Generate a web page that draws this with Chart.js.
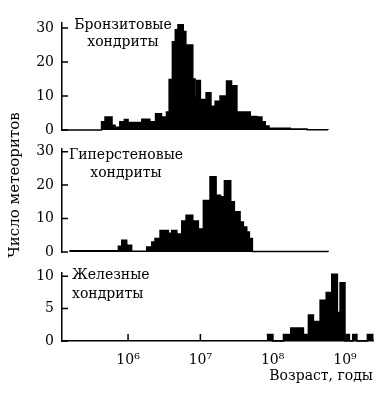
<!DOCTYPE html>
<html>
<head>
<meta charset="utf-8">
<script src="https://cdn.jsdelivr.net/npm/chart.js@4.4.0/dist/chart.umd.min.js"></script>
<style>
  body { margin: 0; background: #fff; }
  #wrap { position: relative; width: 387px; height: 399px; background: #fff; overflow: hidden; }
  #wrap canvas { position: absolute; left: 0; }
  #ylabel {
    position: absolute; left: -65px; top: 175px; width: 160px; height: 20px;
    line-height: 20px; text-align: center; transform: rotate(-90deg);
    font: 15px "DejaVu Serif", serif; color: #000; white-space: nowrap;
  }
</style>
</head>
<body>
<div id="wrap">
  <canvas id="bronzite" width="387" height="147" style="top:0"></canvas>
  <canvas id="hypersthene" width="387" height="143" style="top:126px"></canvas>
  <canvas id="iron" width="387" height="149" style="top:250px"></canvas>
  <div id="ylabel">Число метеоритов</div>
</div>
<script>
// age axis range, years
const ageMin = 1.22e5;
const ageMax = 2.44e9;
const decadeTicks = [1e6, 1e7, 1e8, 1e9];

// bin edges (years) and counts; last edge closes the histogram
const bronziteEdges = [4.3e5, 4.8e5, 6.0e5, 6.6e5, 7.7e5, 8.9e5, 1.0e6, 1.55e6, 2.0e6, 2.4e6, 2.9e6, 3.4e6,
  3.7e6, 4.1e6, 4.5e6, 4.9e6, 5.8e6, 6.3e6, 7.2e6, 7.85e6, 8.45e6, 8.9e6, 1.0e7, 1.2e7, 1.4e7, 1.6e7,
  1.87e7, 2.3e7, 2.7e7, 3.2e7, 4.9e7, 6.0e7, 7.1e7, 7.9e7, 8.9e7, 1.75e8, 3.0e8, 5.8e8];
const bronziteCounts = [2.4, 3.8, 1.4, 0.8, 2.4, 3.1, 2.2, 3.2, 2.4, 4.8, 3.8, 5.3,
  14.9, 26, 29.5, 31, 29, 25, 25, 15, 9.6, 14.6, 9, 11, 7, 8.5,
  10, 14.4, 13, 5.3, 4, 3.8, 2.4, 1.2, 0.5, 0.3, 0.1];
const bronziteTicks = [0, 10, 20, 30];

const hyperstheneEdges = [1.58e5, 7.35e5, 8.18e5, 9.59e5, 1.12e6, 1.81e6, 2.13e6, 2.36e6, 2.77e6, 3.61e6,
  4.02e6, 4.72e6, 5.53e6, 6.34e6, 7.85e6, 9.38e6, 1.10e7, 1.36e7, 1.65e7, 1.90e7, 2.15e7, 2.63e7,
  2.95e7, 3.54e7, 3.93e7, 4.38e7, 4.76e7, 5.24e7, 5.84e8];
const hyperstheneCounts = [0.4, 1.7, 3.5, 2, 0.2, 1.5, 3, 4, 6.4, 5.6,
  6.4, 5.4, 9.3, 11, 9.3, 6.9, 15.4, 22.5, 17, 16.5, 21.3, 15,
  12, 9, 7.5, 6, 4, 0.15];
const hyperstheneTicks = [0, 10, 20, 30];

const ironEdges = [8.28e7, 1.0e8, 1.41e8, 1.78e8, 2.04e8, 2.66e8, 3.12e8, 3.66e8, 4.53e8, 5.5e8,
  6.56e8, 7.85e8, 8.55e8, 1.0e9, 1.06e9, 1.15e9, 1.28e9, 1.46e9, 2.04e9, 2.42e9];
const ironCounts = [1, 0, 1, 2, 2, 1, 4, 3, 6.3, 7.5, 10.3, 4.4, 9, 0, 1, 0, 1, 0, 1];
const ironTicks = [0, 5, 10];

const sup = { 6: "⁶", 7: "⁷", 8: "⁸", 9: "⁹" };

Chart.defaults.font.family = '"DejaVu Serif", serif';
Chart.defaults.font.size = 14;
Chart.defaults.color = "#000";

// tick marks pointing into the plot
const innerTicks = {
  id: "innerTicks",
  afterDraw(chart) {
    const { ctx, chartArea, scales } = chart;
    ctx.save();
    ctx.strokeStyle = "#000";
    ctx.lineWidth = 1.5;
    ctx.beginPath();
    scales.y.ticks.forEach((t) => {
      const y = scales.y.getPixelForValue(t.value);
      ctx.moveTo(chartArea.left, y);
      ctx.lineTo(chartArea.left + 6, y);
    });
    if (scales.x.options.display) {
      scales.x.ticks.forEach((t) => {
        const x = scales.x.getPixelForValue(t.value);
        ctx.moveTo(x, chartArea.bottom);
        ctx.lineTo(x, chartArea.bottom - 7);
      });
    }
    ctx.stroke();
    ctx.restore();
  },
};

// panel name written inside the plot area
const panelText = {
  id: "panelText",
  afterDraw(chart, args, opts) {
    const { ctx, chartArea } = chart;
    ctx.save();
    ctx.font = '14px "DejaVu Serif", serif';
    ctx.fillStyle = "#000";
    ctx.textAlign = opts.align;
    ctx.textBaseline = "alphabetic";
    opts.lines.forEach((line, i) => {
      ctx.fillText(line, chartArea.left + opts.dx, chartArea.top + opts.dy + i * opts.gap);
    });
    ctx.restore();
  },
};

const histPoints = (edges, counts, start) => {
  const pts = edges.map((e, i) => ({ x: e, y: i < counts.length ? counts[i] : 0 }));
  if (start) pts.unshift({ x: start, y: 0 });
  return pts;
};

const makePanel = (id, edges, counts, start, yMax, yTicks, text, padding, showX) => {
  const ctx = document.getElementById(id);
  return new Chart(ctx, {
    type: "line",
    data: {
      datasets: [
        {
          data: histPoints(edges, counts, start),
          stepped: true,
          fill: "origin",
          backgroundColor: "#000",
          borderColor: "#000",
          borderWidth: 1.5,
          pointRadius: 0,
          clip: false,
        },
      ],
    },
    options: {
      responsive: false,
      animation: false,
      layout: { padding: padding },
      plugins: {
        legend: { display: false },
        tooltip: { enabled: false },
        panelText: text,
      },
      scales: {
        x: {
          type: "logarithmic",
          min: ageMin,
          max: ageMax,
          display: showX,
          grid: { display: false, drawTicks: false },
          border: { display: true, color: "#000", width: 1.5 },
          afterBuildTicks: (scale) => {
            scale.ticks = decadeTicks.map((v) => ({ value: v }));
          },
          afterFit: (scale) => {
            if (showX) scale.height = 58;
          },
          ticks: {
            padding: 11,
            maxRotation: 0,
            callback: (v) => "10" + sup[Math.round(Math.log10(v))],
          },
          title: {
            display: showX,
            text: "Возраст, годы",
            align: "end",
            padding: { top: 0, bottom: 14 },
          },
        },
        y: {
          min: 0,
          max: yMax,
          grid: { display: false, drawTicks: false },
          border: { display: true, color: "#000", width: 1.5 },
          afterBuildTicks: (scale) => {
            scale.ticks = yTicks.map((v) => ({ value: v }));
          },
          afterFit: (scale) => {
            scale.width = 62;
          },
          ticks: { padding: 8 },
        },
      },
    },
    plugins: [innerTicks, panelText],
  });
};

makePanel("bronzite", bronziteEdges, bronziteCounts, ageMin, 31.5, bronziteTicks,
  { lines: ["Бронзитовые", "хондриты"], align: "center", dx: 61, dy: 6, gap: 17 },
  { top: 23, right: 14, bottom: 17, left: 0 }, false);

makePanel("hypersthene", hyperstheneEdges, hyperstheneCounts, 1.58e5, 30.8, hyperstheneTicks,
  { lines: ["Гиперстеновые", "хондриты"], align: "center", dx: 64, dy: 10, gap: 18 },
  { top: 23, right: 14, bottom: 17, left: 0 }, false);

makePanel("iron", ironEdges, ironCounts, null, 10.5, ironTicks,
  { lines: ["Железные", "хондриты"], align: "left", dx: 10, dy: 6, gap: 19 },
  { top: 23, right: 14, bottom: 0, left: 0 }, true);
</script>
</body>
</html>
